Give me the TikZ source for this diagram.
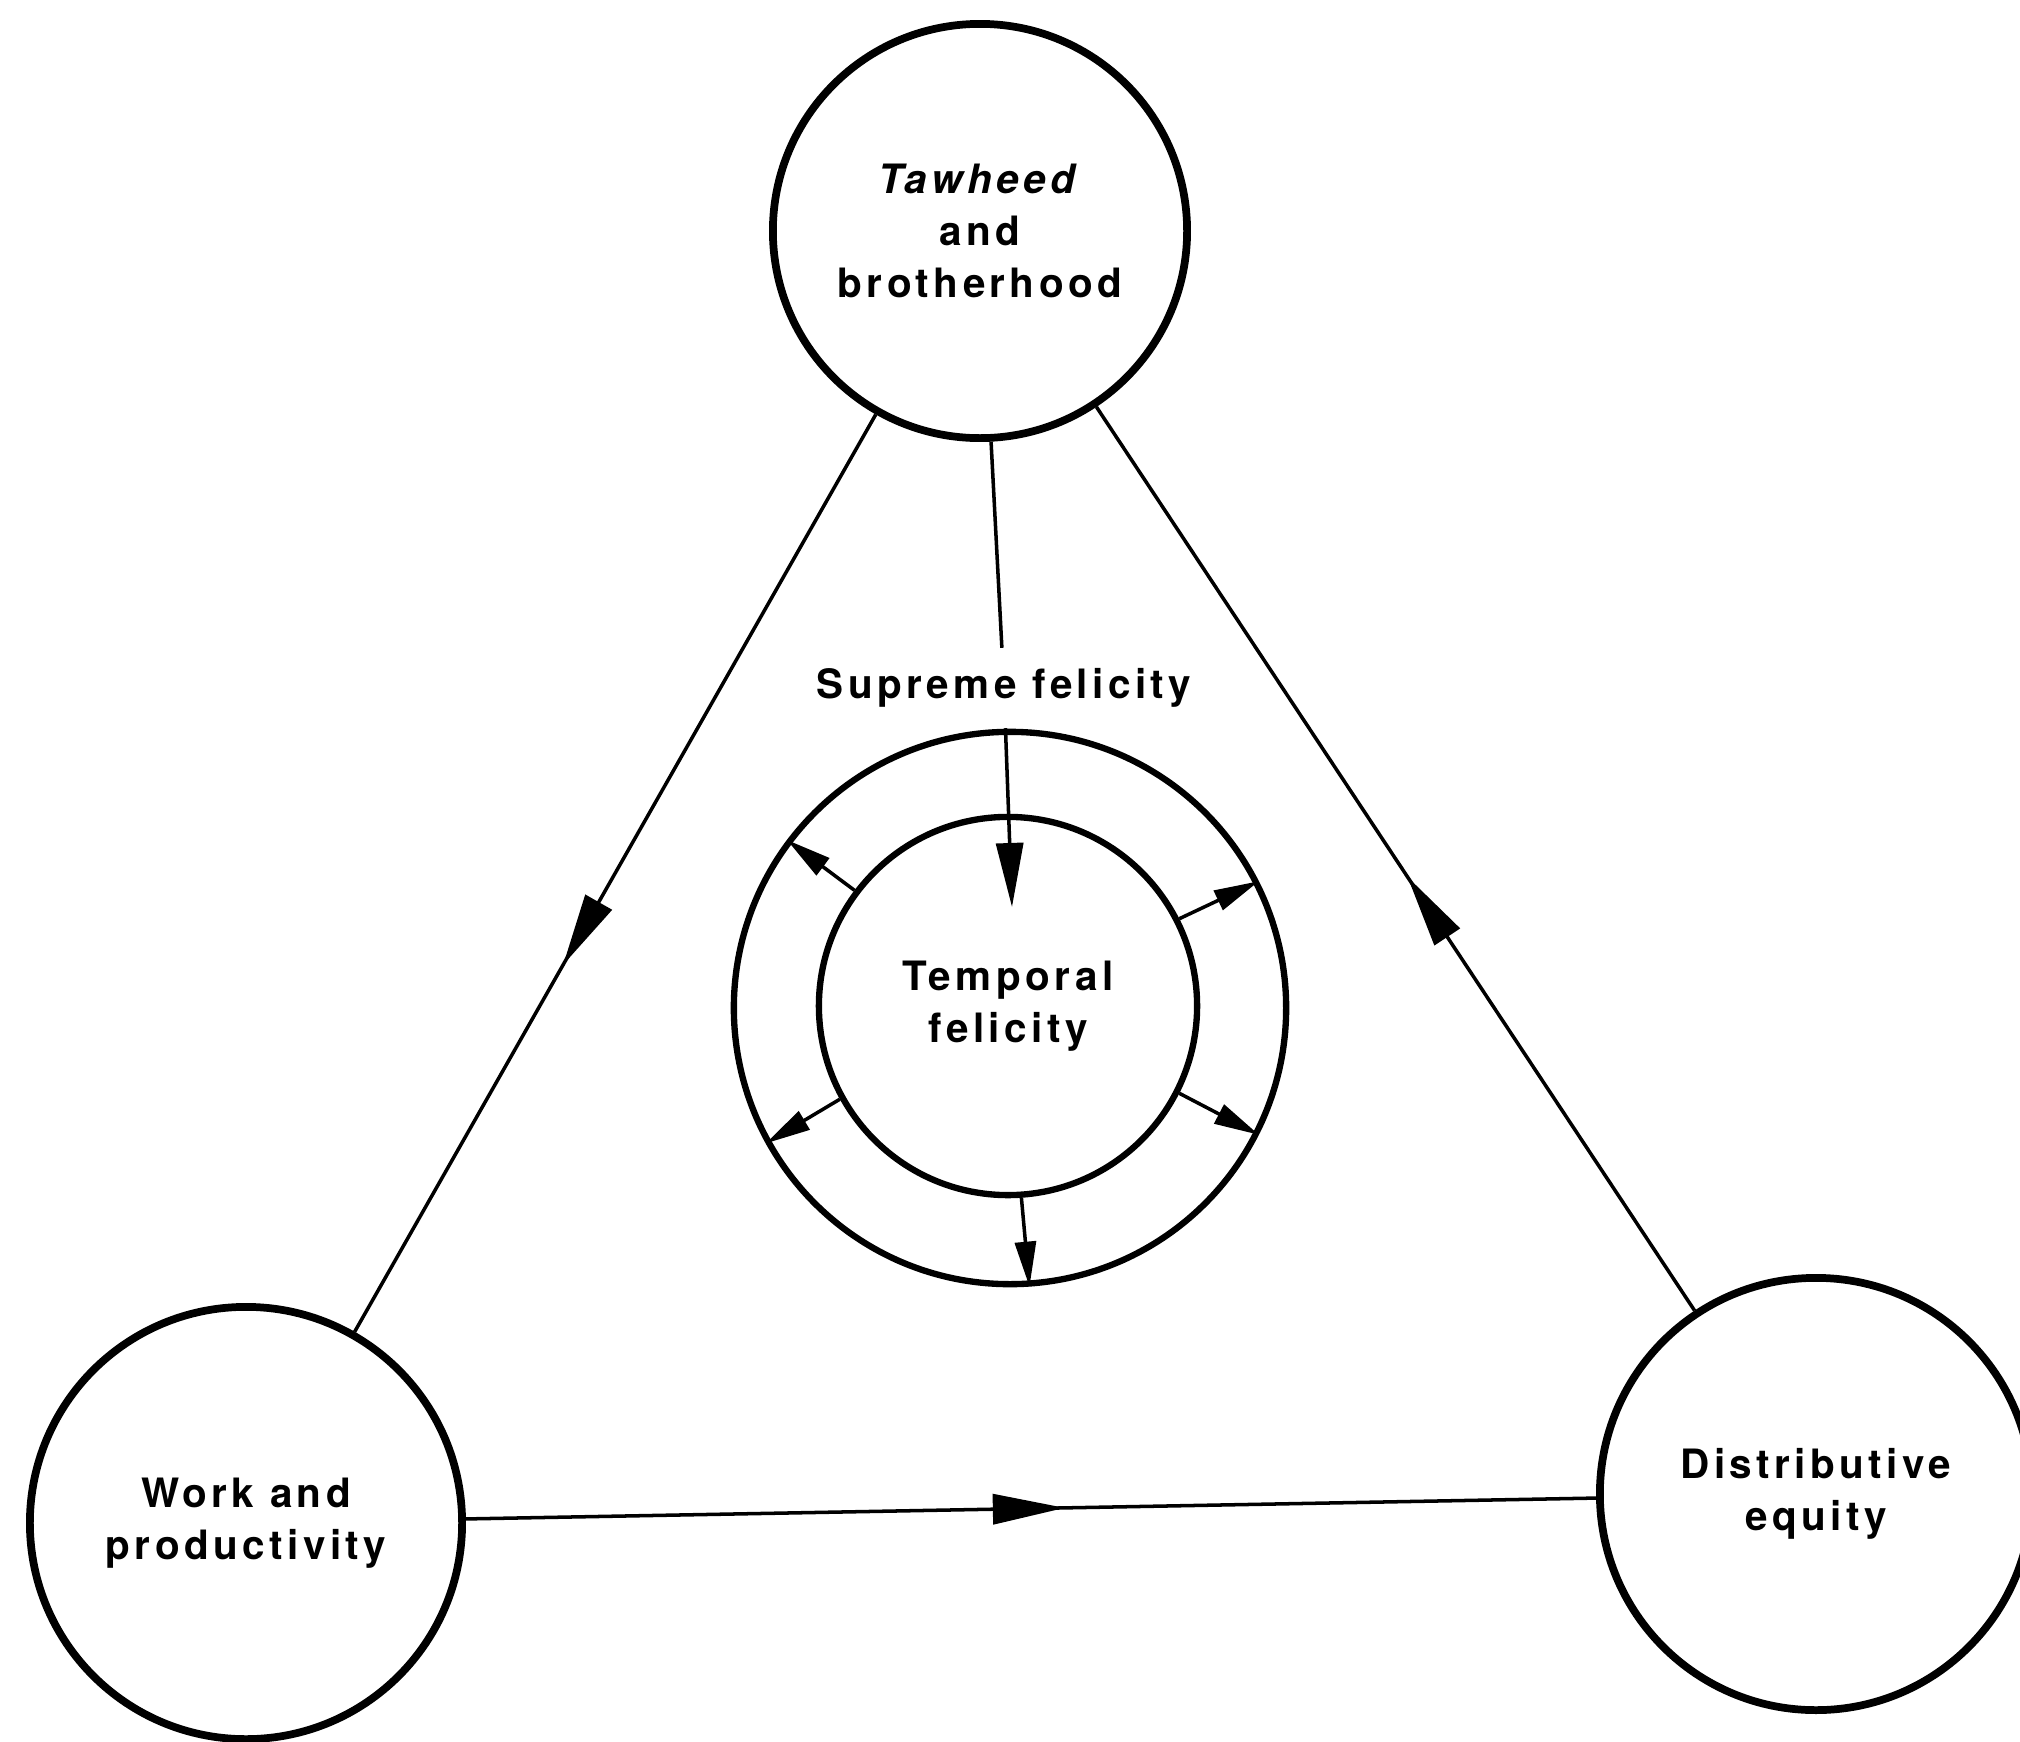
\documentclass[tikz,border=0pt]{standalone}
\usepackage{fontspec}
\setmainfont{TeX Gyre Heros}[LetterSpace=11]
\usetikzlibrary{
    positioning,
    calc,
    arrows.meta,
    decorations.markings}

\newcommand{\felicityfont}{\fontsize{11.5}{14.8}\selectfont\bfseries}

\begin{document}
\begin{tikzpicture}[x=0.01cm, y=-0.01cm,
    topic/.style={draw, circle, line width=2.2pt, inner sep=0pt, align=center, font=\felicityfont},
    ring/.style={draw, circle, line width=1.8pt, inner sep=0pt},
    link/.style={line width=1pt},
    mid arrow/.style={postaction={decorate}, decoration={markings, mark=at position #1 with {\arrow{Triangle[length=0.72cm, width=0.3cm]}}}},
    radial/.style={line width=1pt, -{Triangle[length=0.45cm, width=0.21cm]}}]
\newcommand{\topicsize}{4.32cm}

\useasboundingbox (0,0) rectangle (2020,1742);

\node[topic, minimum size=4.14cm] (tawheed) at (980,231) {\textit{Tawheed}\\and\\brotherhood};
\node[topic, minimum size=\topicsize] (work) at (246,1523) {Work and\\productivity};
\node[topic, minimum size=\topicsize] (equity) at (1816,1494) {Distributive\\equity};

% the two felicities in the middle
\node[ring, minimum size=5.52cm] (outer) at (1010,1008) {};
\node[ring, minimum size=3.78cm, align=center, font=\felicityfont] (temporal) at (1008,1006) {Temporal\\felicity};
\node[font=\felicityfont, inner xsep=0pt, inner ysep=0.2cm] (supreme) at (1004,688) {Supreme felicity};
\coordinate (supremetip) at (1012,907);

\draw[link, mid arrow=0.6] (tawheed) -- (work);
\draw[link, mid arrow=0.53] (work) -- (equity);
\draw[link, mid arrow=0.48] (equity) -- (tawheed);

\draw[link] (tawheed) -- (supreme);
\draw[link, -{Triangle[length=0.64cm, width=0.27cm]}] (supreme) -- (supremetip);

\foreach \a in {143,27,-27,209,274}
{
    \draw[radial] (temporal.\a) -- (outer.\a);
}

\end{tikzpicture}
\end{document}
